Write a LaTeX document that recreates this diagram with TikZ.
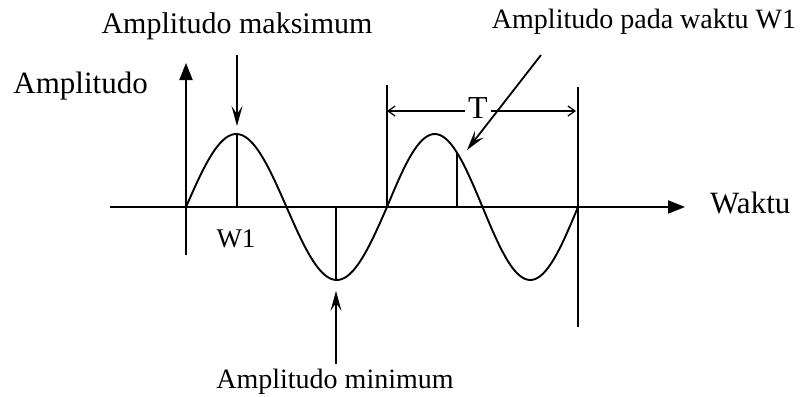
\documentclass[tikz,border=0pt]{standalone}
\usepackage{fontspec}
\setmainfont{Liberation Serif}
\usepackage{tikz}
\usetikzlibrary{arrows.meta, calc}
\tikzset{
  wave/.style={line width=1.9pt},
  mark line/.style={line width=1.8pt},
  axis arrow/.style={line width=1.9pt, -{Triangle[length=17pt, width=13pt]}},
  point arrow/.style={line width=1.8pt, -{Stealth[length=20pt, width=11pt, inset=8pt]}},
  period arrow/.style={line width=1.3pt, -{Straight Barb[length=7pt, width=10pt]}},
  lbl/.style={inner sep=0pt, anchor=base}
}
\newcommand{\lblsize}[1]{\fontsize{#1}{#1}\selectfont}

\begin{document}
\begin{tikzpicture}[x=1pt, y=-1pt]
\useasboundingbox (0,0) rectangle (800,396);
% ===== axes =====
\coordinate (O) at (186,207);
\draw[axis arrow] (186,255) -- (186,63) coordinate (ytip);
\draw[axis arrow] (110,207) -- (685,207) coordinate (xtip);
\node[lbl, anchor=base east, font=\lblsize{31}] (ylab) at (148,93) {Amplitudo};
\node[lbl, anchor=base west, font=\lblsize{31}] (xlab) at (710,213) {Waktu};
% ===== two cycles of the wave =====
\draw[wave] plot[domain=0:360, samples=72] ({186+\x/360*201}, {207-73*sin(\x)});
\draw[wave] plot[domain=0:360, samples=72] ({387+\x/360*191}, {207-73*sin(\x)});
% marks: peak, trough, value at W1 in second cycle
\coordinate (peak) at (237,134);
\coordinate (trough) at (336,280);
\pgfmathsetmacro{\wy}{207-73*sin((457-387)/191*360)}
\coordinate (wval) at (457,\wy);
\draw[mark line] (peak) -- (peak |- O);
\draw[mark line] (trough) -- (trough |- O);
\draw[mark line] (wval) -- (wval |- O);
\node[lbl, font=\lblsize{27}] (w1) at (236,247) {W1};
% ===== period T =====
\coordinate (tl) at (387,85);
\coordinate (tr) at (578,87);
\draw[mark line] (tl) -- (387,207);
\draw[mark line] (tr) -- (578,327);
\node[lbl, font=\lblsize{32}] (T) at (478,118) {T};
\draw[period arrow] (T.west |- 0,111) ++(-3,0) -- (387,111);
\draw[period arrow] (T.east |- 0,111) ++(3,0) -- (576,111);
% ===== pointers =====
\node[lbl, font=\lblsize{30}] (maks) at (237,34) {Amplitudo maksimum};
\node[lbl, font=\lblsize{28}] (mini) at (335,388) {Amplitudo minimum};
\node[lbl, font=\lblsize{28}] (pada) at (644,29) {Amplitudo pada waktu W1};
\draw[point arrow] (237,55) -- (237,126);
\draw[point arrow] (336,364) -- (336,291);
\draw[point arrow] (541,55) -- (467,150);
\end{tikzpicture}
\end{document}
